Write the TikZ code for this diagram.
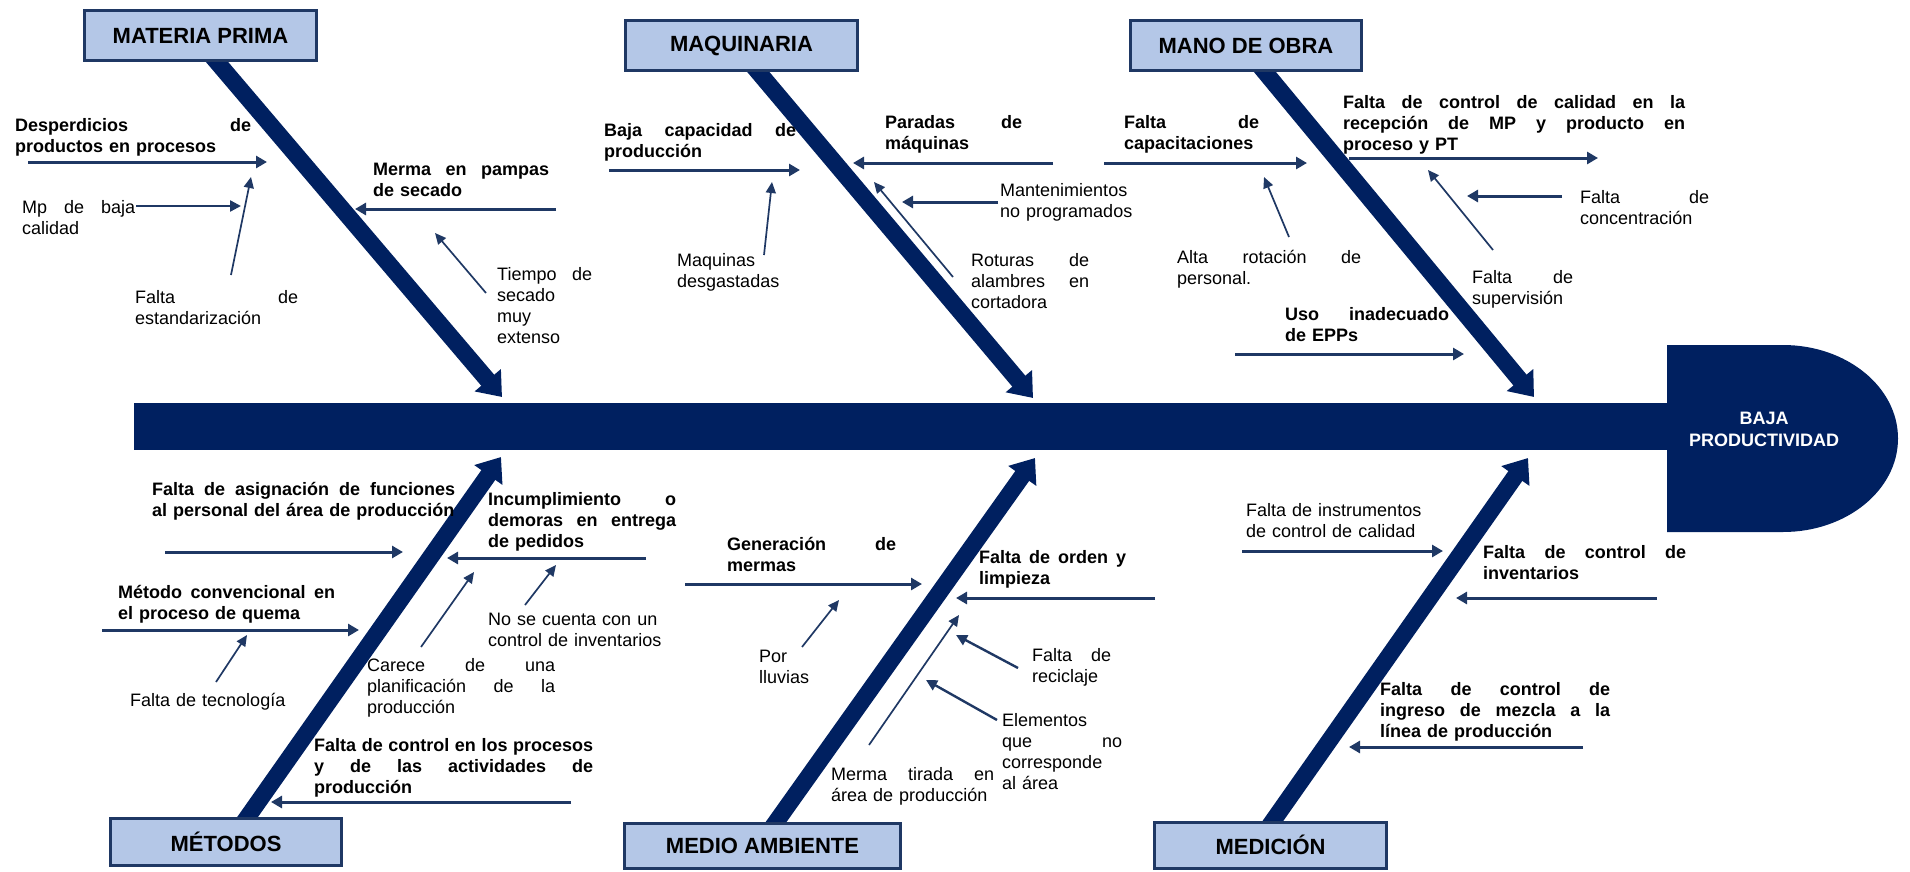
\documentclass[tikz,border=0pt]{standalone}
\usepackage{fontspec}
\setmainfont{Liberation Sans}
\usetikzlibrary{arrows.meta,backgrounds}

\definecolor{navy}{RGB}{0,32,96}
\definecolor{arrowc}{RGB}{31,56,100}
\definecolor{boxfill}{RGB}{180,199,231}

\newcommand\txtsize{\fontsize{18}{21}\selectfont}
% arrow between two named coordinates: style, name, start, end
\newcommand\causearrow[4]{%
  \coordinate (#2-a) at (#3);
  \coordinate (#2-b) at (#4);
  \draw[#1] (#2-a) -- (#2-b);}

\begin{document}
\begin{tikzpicture}[x=1pt,y=-1pt,
  catbox/.style={draw=arrowc, line width=3pt, fill=boxfill, inner sep=0pt,
    font=\fontsize{22}{25}\selectfont\bfseries},
  cause/.style={anchor=north west, inner sep=0pt, align=left,
    font=\txtsize\bfseries, text width=#1},
  sub/.style={anchor=north west, inner sep=0pt, align=left,
    font=\txtsize, text width=#1},
  mainarrow/.style={draw=arrowc, line width=3pt, -{Triangle[length=11pt,width=12pt]}},
  midarrow/.style={draw=arrowc, line width=2.4pt, -{Triangle[length=11pt,width=11pt]}},
  thinarrow/.style={draw=arrowc, line width=1.7pt, -{Triangle[length=11pt,width=10pt]}},
  bone/.style={draw=navy, line width=17pt, -{Triangle[length=22pt,width=33pt]}}
]
\useasboundingbox (0,0) rectangle (1910,872);

% ---- spine and head ----
\fill[navy] (134,403) rectangle (1670,450);
\fill[navy] (1667,345) -- (1783,345)
  .. controls (1846.5,345) and (1898,386.9) .. (1898,438.5)
  .. controls (1898,490.1) and (1846.5,532) .. (1783,532)
  -- (1667,532) -- cycle;
\node[text=white, font=\fontsize{18}{22}\selectfont\bfseries, align=center] (effect)
  at (1764,429) {BAJA\\PRODUCTIVIDAD};

% ---- category boxes ----
\node[catbox, minimum width=232pt, minimum height=50pt] (mp)  at (200.5,35.5) {MATERIA PRIMA};
\node[catbox, minimum width=232pt, minimum height=50pt] (maq) at (741.5,45.5) {MAQUINARIA};
\node[catbox, minimum width=231pt, minimum height=50pt] (mo)  at (1246,45.5) {MANO DE OBRA};
\node[catbox, minimum width=231pt, minimum height=47pt] (met) at (226,842) {MÉTODOS};
\node[catbox, minimum width=276pt, minimum height=45pt] (ma)  at (762.5,846) {MEDIO AMBIENTE};
\node[catbox, minimum width=232pt, minimum height=46pt] (med) at (1270.5,845) {MEDICIÓN};

% ---- bones (behind the boxes) ----
\coordinate (mp-tip)  at (502,397);
\coordinate (maq-tip) at (1033,398);
\coordinate (mo-tip)  at (1534,397);
\coordinate (met-tip) at (501,457);
\coordinate (ma-tip)  at (1035,458);
\coordinate (med-tip) at (1528,458);
\begin{scope}[on background layer]
  \draw[bone] ([xshift=-6pt]mp.center) -- (mp-tip);
  \draw[bone] ([xshift=-5.5pt]maq.center) -- (maq-tip);
  \draw[bone] ([xshift=-3pt]mo.center) -- (mo-tip);
  \draw[bone] ([xshift=4pt]met.center) -- (met-tip);
  \draw[bone] ([xshift=-3.5pt]ma.center) -- (ma-tip);
  \draw[bone] ([xshift=-14.5pt]med.center) -- (med-tip);
\end{scope}

% ---- Materia prima ----
\node[cause=236pt] (desp) at (15,118) {Desperdicios\hfill de\\productos en procesos};
\causearrow{mainarrow}{desp}{28,162}{267,162}
\node[sub=113pt] (mpb) at (22,200) {Mp\hfill de\hfill baja\\calidad};
\causearrow{midarrow}{mpb}{136,206}{241,206}
\node[sub=163pt] (est) at (135,290) {Falta\hfill de\\estandarización};
\causearrow{thinarrow}{est}{231,275}{251,177}
\node[cause=176pt] (merma) at (373,163) {Merma\hfill en\hfill pampas\\de secado};
\causearrow{mainarrow}{merma}{556,209}{355,209}
\node[sub=95pt] (tiempo) at (497,267) {Tiempo\hfill de\\secado\\muy\\extenso};
\causearrow{thinarrow}{tiempo}{486,293}{435,233}

% ---- Maquinaria ----
\node[cause=192pt] (bajacap) at (604,123) {Baja\hfill capacidad\hfill de\\producción};
\causearrow{mainarrow}{bajacap}{609,170}{800,170}
\node[sub=120pt] (maqd) at (677,253) {Maquinas\\desgastadas};
\causearrow{thinarrow}{maqd}{764,255}{772,182}
\node[cause=137pt] (paradas) at (885,115) {Paradas\hfill de\\máquinas};
\causearrow{mainarrow}{paradas}{1053,163}{853,163}
\node[sub=150pt] (mant) at (1000,183) {Mantenimientos\\no programados};
\causearrow{mainarrow}{mant}{998,202}{902,202}
\node[sub=118pt] (rot) at (971,253) {Roturas\hfill de\\alambres\hfill en\\cortadora};
\causearrow{thinarrow}{rot}{953,277}{874,182}

% ---- Mano de obra ----
\node[cause=135pt] (capac) at (1124,115) {Falta\hfill de\\capacitaciones};
\causearrow{mainarrow}{capac}{1104,163}{1307,163}
\node[sub=184pt] (alta) at (1177,250) {Alta\hfill rotación\hfill de\\personal.};
\causearrow{thinarrow}{alta}{1289,237}{1264,177}
\node[cause=342pt] (ctrlcal) at (1343,95)
  {Falta\hfill de\hfill control\hfill de\hfill calidad\hfill en\hfill la\\
   recepción\hfill de\hfill MP\hfill y\hfill producto\hfill en\\proceso y PT};
\causearrow{mainarrow}{ctrlcal}{1349,158}{1598,158}
\node[sub=129pt] (concen) at (1580,190) {Falta\hfill de\\concentración};
\causearrow{mainarrow}{concen}{1562,196}{1467,196}
\node[sub=101pt] (superv) at (1472,270) {Falta\hfill de\\supervisión};
\causearrow{thinarrow}{superv}{1493,250}{1428,170}
\node[cause=164pt] (epps) at (1285,307) {Uso\hfill inadecuado\\de EPPs};
\causearrow{mainarrow}{epps}{1235,354}{1464,354}

% ---- Metodos ----
\node[cause=303pt] (asign) at (152,482)
  {Falta\hfill de\hfill asignación\hfill de\hfill funciones\\\mbox{al personal del área de producción}};
\causearrow{mainarrow}{asign}{165,552}{403,552}
\node[cause=188pt] (incump) at (488,492)
  {Incumplimiento\hfill o\\demoras\hfill en\hfill entrega\\de pedidos};
\causearrow{mainarrow}{incump}{646,558}{447,558}
\node[sub=200pt] (nocu) at (488,613) {No se cuenta con un\\control de inventarios};
\causearrow{thinarrow}{nocu}{525,605}{556,565}
\node[cause=217pt] (metconv) at (118,585) {Método\hfill convencional\hfill en\\el proceso de quema};
\causearrow{mainarrow}{metconv}{102,630}{359,630}
\node[sub=170pt] (tecno) at (130,693) {Falta de tecnología};
\causearrow{thinarrow}{tecno}{216,682}{247,635}
\node[sub=188pt] (carece) at (367,658) {Carece\hfill de\hfill una\\planificación\hfill de\hfill la\\producción};
\causearrow{thinarrow}{carece}{421,647}{474,572}
\node[cause=279pt] (ctrlproc) at (314,738)
  {Falta\hfill de\hfill control\hfill en\hfill los\hfill procesos\\
   y\hfill de\hfill las\hfill actividades\hfill de\\producción};
\causearrow{mainarrow}{ctrlproc}{571,802}{271,802}

% ---- Medio ambiente ----
\node[cause=169pt] (genmer) at (727,537) {Generación\hfill de\\mermas};
\causearrow{mainarrow}{genmer}{685,584}{922,584}
\node[sub=60pt] (lluv) at (759,650) {Por\\lluvias};
\causearrow{thinarrow}{lluv}{802,647}{839,600}
\node[cause=147pt] (orden) at (979,550) {Falta\hfill de\hfill orden\hfill y\\limpieza};
\causearrow{mainarrow}{orden}{1155,598}{956,598}
\node[sub=79pt] (recic) at (1032,648) {Falta\hfill de\\reciclaje};
\causearrow{midarrow}{recic}{1018,668}{956,635}
\node[sub=120pt] (elem) at (1002,713) {Elementos\\que\hfill no\\corresponde\\al área};
\causearrow{midarrow}{elem}{997,720}{926,680}
\node[sub=163pt] (mermat) at (831,767) {Merma\hfill tirada\hfill en\\área de producción};
\causearrow{thinarrow}{mermat}{869,745}{959,615}

% ---- Medicion ----
\node[sub=190pt] (instr) at (1246,503) {Falta de instrumentos\\de control de calidad};
\causearrow{mainarrow}{instr}{1242,551}{1443,551}
\node[cause=203pt] (ctrlinv) at (1483,545) {Falta\hfill de\hfill control\hfill de\\inventarios};
\causearrow{mainarrow}{ctrlinv}{1657,598}{1456,598}
\node[cause=230pt] (ingreso) at (1380,682)
  {Falta\hfill de\hfill control\hfill de\\ingreso\hfill de\hfill mezcla\hfill a\hfill la\\línea de producción};
\causearrow{mainarrow}{ingreso}{1583,747}{1349,747}

\end{tikzpicture}
\end{document}
